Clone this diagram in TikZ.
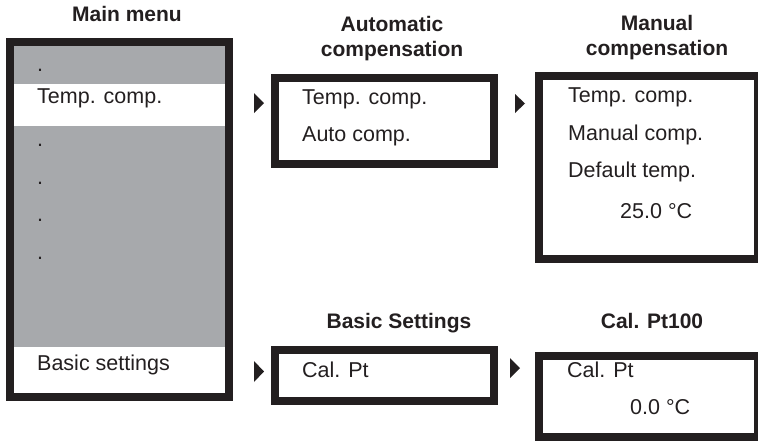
\documentclass[tikz,border=0pt]{standalone}
\usepackage{fontspec}
\setmainfont{Liberation Sans}
\definecolor{frame}{HTML}{231F20}
\definecolor{menugray}{HTML}{A7A9AC}
\begin{document}
\begin{tikzpicture}[x=1pt,y=-1pt,
  box/.style={draw=frame,line width=8pt,inner sep=0pt,outer sep=0pt,anchor=north west},
  txt/.style={anchor=base west,inner sep=0pt,font=\fontsize{21.5}{25}\selectfont,text=frame},
  ttl/.style={anchor=base,inner sep=0pt,align=center,font=\fontsize{21}{24.5}\selectfont\bfseries,text=frame},
  tri/.style={fill=frame}]
\useasboundingbox (0,0) rectangle (758,440);
% main menu background
\fill[menugray] (14,46) rectangle (225,393);
\fill[white] (14,84) rectangle (225,126);
\fill[white] (14,347) rectangle (225,393);
\node[box,minimum width=219pt,minimum height=355pt] (main) at (10,42) {};
\node[box,minimum width=219pt,minimum height=86pt] (auto) at (275,78) {};
\node[box,minimum width=219pt,minimum height=183pt] (manual) at (539,76) {};
\node[box,minimum width=219pt,minimum height=51pt] (basic) at (275,350) {};
\node[box,minimum width=219pt,minimum height=81pt] (cal) at (539,356) {};
% titles
\node[ttl] (tmain) at (127,21) {Main menu};
\node[ttl] (tauto) at (392,56) {Automatic\\compensation};
\node[ttl] (tman) at (657,55) {Manual\\compensation};
\node[ttl] (tbasic) at (399,328) {Basic Settings};
\node[ttl] (tcal) at (652,328) {Cal. Pt100};
% main menu entries
\node[txt] (d1) at (37,71) {.};
\node[txt] (m1) at (37,103) {Temp. comp.};
\node[txt] (d2) at (37,146) {.};
\node[txt] (d3) at (37,184) {.};
\node[txt] (d4) at (37,221) {.};
\node[txt] (d5) at (37,259) {.};
\node[txt] (m2) at (37,370) {Basic settings};
% auto
\node[txt] (a1) at (302,104) {Temp. comp.};
\node[txt] (a2) at (302,141) {Auto comp.};
% manual
\node[txt] (n1) at (568,102) {Temp. comp.};
\node[txt] (n2) at (568,140) {Manual comp.};
\node[txt] (n3) at (568,177) {Default temp.};
\node[txt] (n4) at (620,218) {25.0 °C};
% basic
\node[txt] (b1) at (302,377) {Cal. Pt};
% cal
\node[txt] (c1) at (567,377) {Cal. Pt};
\node[txt] (c2) at (630,414) {0.0 °C};
% triangles
\fill[tri] (254,93) -- (264,103) -- (254,113) -- cycle;
\fill[tri] (515,94) -- (525,103.5) -- (515,113) -- cycle;
\fill[tri] (254,361) -- (264,371.5) -- (254,382) -- cycle;
\fill[tri] (510,358) -- (520,368) -- (510,378) -- cycle;
\end{tikzpicture}
\end{document}
